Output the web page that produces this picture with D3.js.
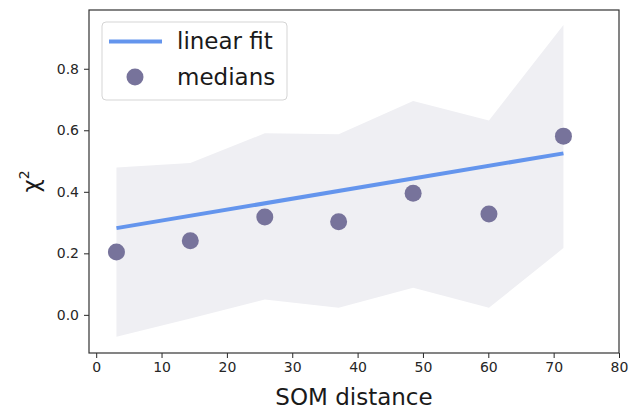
<!DOCTYPE html>
<html>
<head>
<meta charset="utf-8">
<script src="https://cdn.jsdelivr.net/npm/d3@7"></script>
<style>
  body { margin: 0; background: #fff; }
  text { font-family: "DejaVu Sans", sans-serif; }
  .tick text { fill: #262626; font-size: 14px; }
  .tick line { stroke: #262626; }
</style>
</head>
<body>
<svg id="chart" width="636" height="410"></svg>
<script>
// data
const somDist = [3.1, 14.4, 25.8, 37.1, 48.5, 60.1, 71.5];
const medians = [0.204, 0.241, 0.318, 0.303, 0.395, 0.328, 0.581];
const upper = [0.479, 0.494, 0.590, 0.587, 0.695, 0.632, 0.942];
const lower = [-0.071, -0.012, 0.050, 0.023, 0.088, 0.023, 0.217];
const fitX = [3.1, 71.5];
const fitY = [0.282, 0.525];
const xTicks = [0, 10, 20, 30, 40, 50, 60, 70, 80];
const yTicks = [0.0, 0.2, 0.4, 0.6, 0.8];

const svg = d3.select("svg#chart");
const margins = { top: 10, right: 17, bottom: 57, left: 89 };
const width = +svg.attr("width") - margins.left - margins.right;
const height = +svg.attr("height") - margins.top - margins.bottom;

const xScale = d3.scaleLinear().domain([-1.1, 80]).range([0, width]);
const yScale = d3.scaleLinear().domain([-0.124, 0.991]).range([height, 0]);

const chart = svg.append("g")
  .attr("transform", `translate(${margins.left},${margins.top})`);

// spread band
const band = d3.area()
  .x((d, i) => xScale(somDist[i]))
  .y0((d, i) => yScale(lower[i]))
  .y1((d, i) => yScale(upper[i]));

chart.append("path")
  .datum(somDist)
  .attr("d", band)
  .attr("fill", "#efeff3");

// linear fit
const fitLine = d3.line()
  .x((d, i) => xScale(fitX[i]))
  .y((d) => yScale(d));

chart.append("path")
  .datum(fitY)
  .attr("d", fitLine)
  .attr("fill", "none")
  .attr("stroke", "#6495ed")
  .attr("stroke-width", 4);

// medians
chart.selectAll("circle.pt")
  .data(medians)
  .join("circle")
  .attr("class", "pt")
  .attr("cx", (d, i) => xScale(somDist[i]))
  .attr("cy", (d) => yScale(d))
  .attr("r", 8.5)
  .attr("fill", "#77739b");

// axes
chart.append("g")
  .attr("transform", `translate(0,${height})`)
  .call(d3.axisBottom(xScale).tickValues(xTicks).tickSize(5).tickPadding(4).tickFormat(d3.format("d")))
  .call(g => g.select(".domain").remove());

chart.append("g")
  .call(d3.axisLeft(yScale).tickValues(yTicks).tickSize(5).tickPadding(5).tickFormat(d3.format(".1f")))
  .call(g => g.select(".domain").remove());

// frame
chart.append("rect")
  .attr("width", width)
  .attr("height", height)
  .attr("fill", "none")
  .attr("stroke", "#333")
  .attr("stroke-width", 1.2);

// axis labels
svg.append("text")
  .attr("x", margins.left + width / 2)
  .attr("y", 405)
  .attr("text-anchor", "middle")
  .attr("font-size", 23)
  .attr("fill", "#1a1a1a")
  .text("SOM distance");

const yLab = svg.append("text")
  .attr("transform", `translate(39,${margins.top + height / 2}) rotate(-90)`)
  .attr("text-anchor", "middle")
  .attr("font-size", 23)
  .attr("fill", "#1a1a1a");
yLab.append("tspan").text("χ");
yLab.append("tspan").attr("font-size", 14).attr("dy", -10).text("2");

// legend
const legend = svg.append("g");
legend.append("rect")
  .attr("x", 102).attr("y", 22)
  .attr("width", 185).attr("height", 78)
  .attr("rx", 4)
  .attr("fill", "#fff").attr("fill-opacity", 0.8)
  .attr("stroke", "#d5d5d5");
legend.append("line")
  .attr("x1", 109).attr("x2", 162)
  .attr("y1", 41.5).attr("y2", 41.5)
  .attr("stroke", "#6495ed").attr("stroke-width", 4);
legend.append("circle")
  .attr("cx", 135).attr("cy", 77)
  .attr("r", 8.5).attr("fill", "#77739b");
legend.append("text")
  .attr("x", 177).attr("y", 49)
  .attr("font-size", 23).attr("fill", "#1a1a1a")
  .text("linear fit");
legend.append("text")
  .attr("x", 177).attr("y", 85)
  .attr("font-size", 23).attr("fill", "#1a1a1a")
  .text("medians");
</script>
</body>
</html>
